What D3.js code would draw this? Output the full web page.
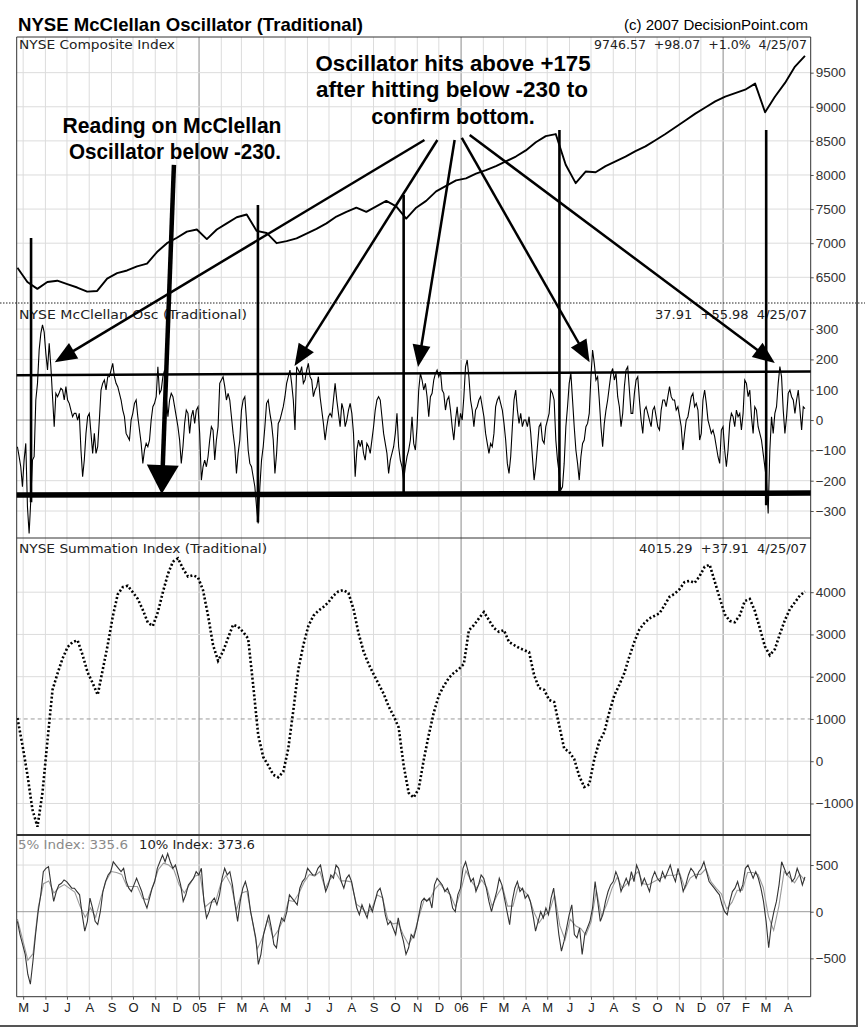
<!DOCTYPE html>
<html><head><meta charset="utf-8">
<script src="https://cdn.jsdelivr.net/npm/d3@7"></script>
<style>body{margin:0;background:#fff}svg{display:block}</style>
</head><body>
<svg id="c" width="865" height="1029"></svg>
<script>
// ---------------- DATA ----------------
const monthLabels = ["M","J","J","A","S","O","N","D","05","F","M","A","M","J","J","A","S","O","N","D","06","F","M","A","M","J","J","A","S","O","N","D","07","F","M","A"];
const firstMonth = "2004-05-01";
const seriesStart = "2004-04-23", seriesEnd = "2007-04-25";

const compTicks = [6500,7000,7500,8000,8500,9000,9500];
const oscTicks = [-300,-200,-100,0,100,200,300];
const sumTicks = [-1000,0,1000,2000,3000,4000];
const idxTicks = [-500,0,500];

const composite = [6640,6430,6330,6430,6450,6400,6350,6290,6300,6480,6560,6600,6660,6700,6870,7000,7080,7170,7200,7060,7200,7290,7380,7420,7180,7150,7000,7030,7070,7140,7210,7290,7390,7460,7520,7460,7540,7620,7540,7360,7520,7620,7760,7840,7920,7950,8020,8070,8130,8200,8270,8360,8480,8570,8600,8150,7880,8050,8040,8130,8200,8270,8350,8420,8510,8600,8700,8800,8900,8990,9080,9150,9200,9250,9340,8920,9150,9350,9590,9747];

const oscillator = [-88,-120,-154,-220,-132,-77,-286,-374,-264,-132,-121,66,121,231,286,314,290,220,165,253,176,77,-22,88,77,90,105,99,66,110,66,55,33,11,22,22,0,22,-99,-187,-132,-44,11,22,-44,-110,-44,-110,-88,0,99,121,132,99,143,143,165,187,143,121,110,88,66,33,11,-44,-55,-66,0,22,55,66,11,-33,-77,-143,-99,-77,-88,-66,0,44,55,77,176,88,99,143,165,77,11,66,88,77,44,11,-22,-66,-143,-88,-11,33,22,-44,11,33,-11,33,44,-44,-198,-154,-132,-154,-121,-66,-22,-33,-132,-66,-22,121,132,143,110,66,88,66,11,-44,-88,-176,-110,-66,33,66,77,0,-99,-143,-154,-187,-220,-286,-341,-220,-132,-88,-22,55,66,22,-11,-66,-176,-110,-11,0,22,44,77,121,143,165,121,66,-33,176,165,154,176,121,132,165,187,143,132,77,99,110,143,77,33,-11,-66,-22,11,22,11,66,121,66,22,-22,55,33,-22,0,33,55,22,-44,-187,-99,-66,-88,-66,-110,-132,-77,-88,-110,-66,-22,33,66,77,66,11,-44,-77,-110,-176,-132,-110,-88,-44,22,-88,-132,-154,-198,-154,-121,-99,-66,
11,-77,-99,-22,99,154,132,99,121,77,11,77,88,132,154,165,143,160,99,88,33,66,77,33,-22,-66,0,44,-22,22,0,77,176,198,143,66,33,-22,33,44,66,77,44,11,-44,-77,-110,-77,-88,-44,44,66,77,55,33,-11,-66,-143,-176,-121,-22,66,99,33,-11,22,-22,0,0,-22,11,-44,-121,-198,-154,-88,-22,-11,-66,-77,-22,0,22,99,88,66,-66,-132,-176,-231,-220,-143,-22,44,121,154,66,-22,-99,-143,-198,-121,-77,-66,-22,-11,22,143,231,187,132,143,66,-22,-88,-11,33,66,110,154,170,132,154,77,44,-22,22,110,165,176,99,22,22,88,132,143,66,0,-44,33,44,22,0,-22,33,44,11,-22,-33,33,66,66,44,77,110,77,66,66,33,44,11,-22,-99,-44,0,11,44,77,88,44,55,33,-66,-44,66,99,55,0,-22,-44,-33,-55,-88,-121,-143,-33,-22,-99,-154,-99,-11,22,11,-22,33,11,22,-33,22,132,121,77,99,11,-44,44,33,-22,-44,-66,-110,-154,-198,-308,-99,11,-44,22,44,121,176,143,33,-44,11,88,99,77,66,22,66,99,33,-33,44,38];

const summation = [1020,385,-325,-1150,-1550,-740,500,1690,2080,2430,2700,2820,2860,2510,2100,1850,1570,2160,2750,3420,3950,4120,4150,4000,3840,3580,3280,3200,3530,4000,4430,4720,4800,4560,4370,4400,4350,4050,3450,2750,2380,2600,2920,3230,3180,3060,2900,1800,620,100,-100,-320,-380,-250,300,1200,2170,2750,3200,3440,3560,3650,3760,3920,4020,4050,3980,3600,3030,2600,2300,2060,1830,1600,1300,1070,800,-100,-750,-860,-650,30,620,1150,1550,1780,1970,2090,2180,2300,3100,3220,3380,3530,3340,3150,3060,3100,2820,2750,2680,2630,2580,2040,1730,1690,1450,1400,850,300,220,50,-350,-610,-550,50,470,690,1160,1560,1810,2090,2480,2830,3120,3270,3380,3440,3500,3690,3890,3960,4070,4240,4270,4220,4380,4600,4650,4260,3860,3480,3320,3290,3450,3790,3840,3560,3150,2720,2510,2650,3010,3340,3600,3760,3920,4015];

const index10 = [-103,-245,-351,-457,-670,-777,-528,-245,0,181,429,465,482,287,110,216,287,305,340,323,287,252,252,216,181,-32,-209,-103,145,39,-103,-138,0,216,323,394,429,535,500,465,429,465,323,252,216,287,358,287,216,110,39,145,252,323,465,535,606,535,624,535,465,500,394,287,110,181,287,323,358,429,394,465,110,-67,0,110,145,74,181,358,465,394,429,287,74,-103,110,252,323,216,0,-138,-280,-564,-457,-245,-138,-32,-174,-351,-387,-174,-67,-103,0,181,145,110,74,252,323,358,465,429,394,394,465,500,358,216,287,394,358,500,465,323,252,358,394,323,181,39,-32,74,0,-67,74,0,110,216,252,145,-32,-138,-103,-174,-245,-67,-209,-316,-457,-387,-245,-280,-174,-32,110,145,110,145,39,287,358,323,287,216,252,181,39,0,181,252,465,535,429,323,358,216,287,394,358,252,110,0,110,216,358,287,145,0,-138,110,252,323,216,252,145,181,110,-32,-209,-103,0,-67,39,-32,145,252,0,-245,-422,-316,-174,-32,74,-245,-280,-174,-457,-245,-174,-103,39,323,110,-103,-32,110,216,287,323,429,358,216,287,358,287,429,323,500,429,287,358,287,216,358,429,358,323,429,358,429,500,394,323,465,358,216,287,394,465,429,358,429,465,535,429,323,287,252,216,181,74,0,-32,110,216,252,323,216,287,465,500,429,358,429,358,252,110,-103,-387,-138,0,110,287,535,465,394,429,323,358,465,394,287,374];

const index5 = [-80,-300,-520,-450,50,300,330,200,260,290,250,210,60,-60,40,-60,150,330,430,420,400,270,270,270,140,130,280,450,520,500,450,290,200,290,380,400,50,100,110,300,390,280,20,200,220,-80,-400,-280,-80,-280,-200,-80,120,110,200,320,400,380,430,250,350,420,330,330,320,80,40,-20,40,180,150,-80,-130,-120,-250,-350,-250,-50,130,120,240,300,230,180,50,220,440,330,250,340,260,60,180,270,60,60,270,230,170,0,-120,-40,0,180,-150,-300,-80,-150,-180,-250,-110,230,-50,80,250,370,250,310,370,430,300,290,320,350,380,390,390,410,250,360,400,400,460,320,250,190,30,100,230,230,420,420,400,260,-50,-200,60,430,370,310,400,336];

// annotation data (dates + values in panel units)
const bottomMarks = [
  {date:"2004-05-12", top:7077, bottom:-271},
  {date:"2005-03-24", top:7560, bottom:-337},
  {date:"2005-10-13", top:7707, bottom:-238},
  {date:"2006-05-18", top:8660, bottom:-241},
  {date:"2007-03-02", top:8660, bottom:-281}
];
const arrowTails = [
  {date:"2005-11-11", val:8513},{date:"2005-11-29", val:8513},{date:"2005-12-23", val:8513},
  {date:"2006-01-02", val:8543},{date:"2006-01-13", val:8587}
];
const arrowTips = [
  {date:"2004-06-14", val:191},{date:"2005-05-14", val:178},{date:"2005-11-02", val:175},
  {date:"2006-06-29", val:191},{date:"2007-03-14", val:188}
];
const bigArrow = {tail:{date:"2004-11-27", val:8147}, tip:{date:"2004-11-10", val:-244}};
const upperLine = {start:"2004-04-22", end:"2007-05-03", v0:148, v1:160};
const lowerLine = {start:"2004-04-22", end:"2007-05-03", v0:-247, v1:-241};

// ---------------- CHART ----------------
const svg = d3.select("#c");
const pd = d3.timeParse("%Y-%m-%d");
const L = 16.7, R = 810.7;
const x = d3.scaleTime().domain([new Date(2004,3,22), new Date(2007,4,3)]).range([L, R]);
const P = [
  {top:37, bottom:303, y:d3.scaleLinear().domain([6123,10023]).range([303,37]), ticks:compTicks},
  {top:303, bottom:538, y:d3.scaleLinear().domain([-389,386]).range([538,303]), ticks:oscTicks},
  {top:538, bottom:835, y:d3.scaleLinear().domain([-1746,5282]).range([835,538]), ticks:sumTicks},
  {top:835, bottom:996.7, y:d3.scaleLinear().domain([-911,822]).range([996.7,835]), ticks:idxTicks}
];
const FONT = "'Liberation Sans', Arial, Helvetica, sans-serif";
const WIDE = "'DejaVu Sans', Verdana, sans-serif";
svg.append("rect").attr("width",865).attr("height",1029).attr("fill","#fff");

const months = d3.timeMonth.range(pd(firstMonth), new Date(2007,4,1));
const defs = svg.append("defs");
P.forEach((p,i)=>{
  defs.append("clipPath").attr("id","clip"+i).append("rect")
    .attr("x",L).attr("y",p.top).attr("width",R-L).attr("height",p.bottom-p.top);
  const g = svg.append("g");
  months.forEach(m=>{
    const isYear = m.getMonth()===0;
    g.append("line").attr("x1",x(m)).attr("x2",x(m)).attr("y1",p.top).attr("y2",p.bottom)
      .attr("stroke", isYear? "#8a8a8a":"#dcdcdc").attr("stroke-width",1);
  });
  p.ticks.forEach(t=>{
    let col="#dcdcdc", dash=null;
    if ((i===1||i===3) && t===0) col="#9a9a9a";
    if (i===2 && t===1000){col="#9a9a9a"; dash="4,3";}
    g.append("line").attr("x1",L).attr("x2",R).attr("y1",p.y(t)).attr("y2",p.y(t))
      .attr("stroke",col).attr("stroke-dasharray",dash);
  });
  const ax = svg.append("g").attr("transform",`translate(${R},0)`)
    .call(d3.axisRight(p.y).tickValues(p.ticks).tickSize(3).tickPadding(2).tickFormat(d3.format("d")));
  ax.select(".domain").remove();
  ax.selectAll("text").attr("font-family",FONT).attr("font-size",13.5).attr("fill","#333");
  ax.selectAll("line").attr("stroke","#555");
});

function spread(vals, s, e){
  const t0 = pd(s).getTime(), t1 = pd(e).getTime(), n = vals.length;
  return vals.map((v,k)=>({d:new Date(t0 + (t1-t0)*k/(n-1)), v}));
}
function drawLine(i, vals, attrs){
  const p = P[i];
  const line = d3.line().x(d=>x(d.d)).y(d=>p.y(d.v));
  const path = svg.append("path").datum(spread(vals, seriesStart, seriesEnd))
    .attr("clip-path",`url(#clip${i})`).attr("fill","none").attr("d",line);
  Object.entries(attrs).forEach(([k,v])=>path.attr(k,v));
}
drawLine(0, composite, {stroke:"#000","stroke-width":1.9,"stroke-linejoin":"round"});
drawLine(1, oscillator, {stroke:"#000","stroke-width":1.1});
drawLine(2, summation, {stroke:"#000","stroke-width":2.6,"stroke-dasharray":"2,2.2"});
drawLine(3, index5, {stroke:"#9a9a9a","stroke-width":1.1});
drawLine(3, index10, {stroke:"#333","stroke-width":1.1});

// panel frames
svg.append("line").attr("x1",L).attr("x2",L).attr("y1",37).attr("y2",996.7).attr("stroke","#333");
svg.append("line").attr("x1",R).attr("x2",R).attr("y1",37).attr("y2",996.7).attr("stroke","#333");
svg.append("line").attr("x1",L).attr("x2",R).attr("y1",37).attr("y2",37).attr("stroke","#333");
svg.append("line").attr("x1",0).attr("x2",865).attr("y1",303).attr("y2",303).attr("stroke","#222").attr("stroke-dasharray","1.5,1.5");
svg.append("line").attr("x1",L).attr("x2",R).attr("y1",538).attr("y2",538).attr("stroke","#333");
svg.append("line").attr("x1",L).attr("x2",R).attr("y1",835).attr("y2",835).attr("stroke","#333").attr("stroke-width",2);
svg.append("line").attr("x1",L).attr("x2",R).attr("y1",996.7).attr("y2",996.7).attr("stroke","#333");

// x axis
const xa = svg.append("g").attr("transform","translate(0,996.7)")
  .call(d3.axisBottom(x).tickValues(months).tickSize(3).tickPadding(3).tickFormat((d,k)=>monthLabels[k]));
xa.select(".domain").remove();
xa.selectAll("text").attr("font-family",FONT).attr("font-size",13).attr("fill","#222");
xa.selectAll("line").attr("stroke","#555");

// titles & panel labels
svg.append("text").attr("x",18).attr("y",31).attr("font-family","'Liberation Sans Narrow','Arial Narrow',"+FONT)
  .attr("font-weight","bold").attr("font-size",19).attr("textLength",345).attr("lengthAdjust","spacingAndGlyphs")
  .text("NYSE McClellan Oscillator (Traditional)");
svg.append("text").attr("x",808).attr("y",30).attr("text-anchor","end").attr("font-family",FONT)
  .attr("font-size",15).attr("textLength",184).attr("lengthAdjust","spacingAndGlyphs").text("(c) 2007 DecisionPoint.com");

const lab = (xx,yy,t,len,anchor,col)=>svg.append("text").attr("x",xx).attr("y",yy).attr("text-anchor",anchor||"start")
  .attr("font-family",WIDE).attr("font-size",12.5).attr("fill",col||"#222")
  .attr("textLength",len).attr("lengthAdjust","spacingAndGlyphs").attr("xml:space","preserve").text(t);
lab(19,49,"NYSE Composite Index",156);
lab(807,49,"9746.57  +98.07  +1.0%  4/25/07",213,"end");
lab(19,319,"NYSE McClellan Osc (Traditional)",228);
lab(807,319,"37.91  +55.98  4/25/07",152,"end");
lab(19,553,"NYSE Summation Index (Traditional)",248);
lab(807,553,"4015.29  +37.91  4/25/07",168,"end");
lab(18,849,"5% Index: 335.6",110,"start","#8a8a8a");
lab(139,849,"10% Index: 373.6",116);

// ---------------- ANNOTATIONS ----------------
const yc = P[0].y, yo = P[1].y;
const ann = svg.append("g");
function hline(o, w){
  ann.append("line").attr("x1",x(pd(o.start))).attr("x2",x(pd(o.end)))
    .attr("y1",yo(o.v0)).attr("y2",yo(o.v1)).attr("stroke","#000").attr("stroke-width",w);
}
hline(upperLine, 2.5);
hline(lowerLine, 5.5);
bottomMarks.forEach(b=>{
  const xx = x(pd(b.date));
  ann.append("line").attr("x1",xx).attr("x2",xx).attr("y1",yc(b.top)).attr("y2",yo(b.bottom))
    .attr("stroke","#000").attr("stroke-width",2.6);
});
function arrow(x1,y1,x2,y2,len,hw,sw){
  const dx=x2-x1, dy=y2-y1, d=Math.hypot(dx,dy), ux=dx/d, uy=dy/d;
  const bx=x2-ux*len, by=y2-uy*len;
  ann.append("line").attr("x1",x1).attr("y1",y1).attr("x2",bx+ux*2).attr("y2",by+uy*2)
    .attr("stroke","#000").attr("stroke-width",sw);
  ann.append("path").attr("d",`M${x2},${y2}L${bx-uy*hw},${by+ux*hw}L${bx+uy*hw},${by-ux*hw}Z`).attr("fill","#000");
}
arrowTails.forEach((t,k)=>{
  const tip = arrowTips[k];
  arrow(x(pd(t.date)), yc(t.val), x(pd(tip.date)), yo(tip.val), 22, 9, 2.5);
});
arrow(x(pd(bigArrow.tail.date)), yc(bigArrow.tail.val), x(pd(bigArrow.tip.date)), yo(bigArrow.tip.val), 29, 16, 4.5);

const big = (cx,yy,t,w)=>{
  const el = ann.append("text").attr("x",cx).attr("y",yy).attr("text-anchor","middle")
    .attr("font-family",FONT).attr("font-weight","bold").attr("font-size",21.5).text(t);
  if (w) el.attr("textLength",w).attr("lengthAdjust","spacingAndGlyphs");
  return el;
};
big(172,133,"Reading on McClellan",219);
big(175,159,"Oscillator below -230.",212);
big(453,71,"Oscillator hits above +175",275);
big(452,97,"after hitting below -230 to",272);
big(453,124,"confirm bottom.");

// outer frame
svg.append("line").attr("x1",857).attr("x2",857).attr("y1",0).attr("y2",1027).attr("stroke","#555").attr("stroke-width",2);
svg.append("line").attr("x1",0).attr("x2",858).attr("y1",1026).attr("y2",1026).attr("stroke","#555").attr("stroke-width",2);
</script>
</body></html>
